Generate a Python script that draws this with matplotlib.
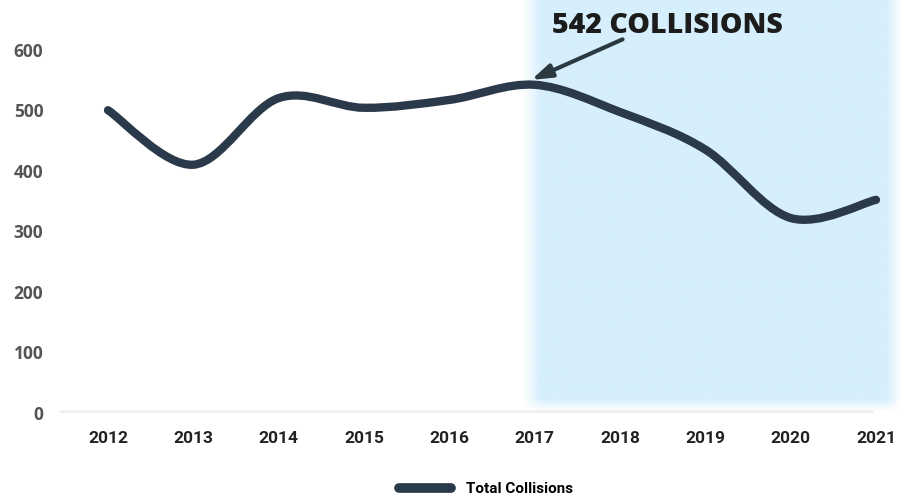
import numpy as np
import matplotlib
matplotlib.use("Agg")
import matplotlib.pyplot as plt
from matplotlib.path import Path
from matplotlib.patches import PathPatch
from matplotlib.lines import Line2D

years = [2012, 2013, 2014, 2015, 2016, 2017, 2018, 2019, 2020, 2021]
collisions = [500, 410, 520, 504, 517, 542, 497, 435, 322, 352]
y_ticks = [0, 100, 200, 300, 400, 500, 600]
note_text = "542 COLLISIONS"
legend_label = "Total Collisions"

line_color = "#2b3a4a"
narrow = ["Roboto", "DejaVu Sans"]

fig = plt.figure(figsize=(9.14, 5.01), dpi=100)
ax = fig.add_axes([60 / 914, 88 / 501, 845 / 914, 413 / 501])
ax.set_xlim(2011.4375, 2021.34)
ax.set_ylim(0, 682)

# shaded highlight with soft edges
w, h = 400, 200
xs = np.linspace(0, 1, w)
ys = np.linspace(0, 1, h)
fx = np.clip(xs / 0.05, 0, 1) * np.clip((1 - xs) / 0.04, 0, 1)
fy = np.clip(ys / 0.03, 0, 1)
alpha = np.outer(fy, fx)
img = np.zeros((h, w, 4))
img[..., 0] = 0xd6 / 255
img[..., 1] = 0xef / 255
img[..., 2] = 0xfc / 255
img[..., 3] = alpha
ax.imshow(img, extent=(2016.85, 2021.3, 2, 682), origin="lower",
          aspect="auto", zorder=0, interpolation="bilinear")

# faint baseline
ax.axhline(0, xmin=0.0, xmax=0.96, color="#f0f0f0", lw=4, zorder=1)

# smooth line (Catmull-Rom -> cubic Bezier)
px = np.array(years, dtype=float)
py = np.array(collisions, dtype=float)
verts = [(px[0], py[0])]
codes = [Path.MOVETO]
n = len(px)
for i in range(n - 1):
    p0 = (px[max(i - 1, 0)], py[max(i - 1, 0)])
    p1 = (px[i], py[i])
    p2 = (px[i + 1], py[i + 1])
    p3 = (px[min(i + 2, n - 1)], py[min(i + 2, n - 1)])
    c1 = (p1[0] + (p2[0] - p0[0]) / 6, p1[1] + (p2[1] - p0[1]) / 6)
    c2 = (p2[0] - (p3[0] - p1[0]) / 6, p2[1] - (p3[1] - p1[1]) / 6)
    verts += [c1, c2, p2]
    codes += [Path.CURVE4] * 3
patch = PathPatch(Path(verts, codes), facecolor="none", edgecolor=line_color,
                  lw=6, capstyle="round", joinstyle="round", zorder=3)
ax.add_patch(patch)

# annotation
peak = collisions.index(max(collisions))
ax.text(2018.56, 640, note_text, ha="center", va="center",
        fontsize=20.5, fontweight="heavy", family=["Open Sans", "DejaVu Sans"],
        color="#1c1c1c", zorder=5)
ax.annotate("", xy=(years[peak] - 0.04, collisions[peak] + 8),
            xytext=(2018.03, 617),
            arrowprops=dict(arrowstyle="-|>,head_length=1.2,head_width=0.4",
                            color="#2b3a40", lw=3, shrinkA=0, shrinkB=0),
            zorder=5)

ax.set_xticks(years)
ax.set_xticklabels([str(y) for y in years], fontsize=12.5, fontweight="bold",
                   family=narrow, color="#222222")
ax.set_yticks(y_ticks)
ax.set_yticklabels([str(v) for v in y_ticks], fontsize=12.5, fontweight="bold",
                   family=["Open Sans", "DejaVu Sans"], color="#555555")
ax.tick_params(axis="x", length=0, pad=13)
ax.tick_params(axis="y", length=0, pad=12)
for s in ax.spines.values():
    s.set_visible(False)

handle = Line2D([], [], color=line_color, lw=7, solid_capstyle="round")
fig.legend([handle], [legend_label], loc="center", bbox_to_anchor=(0.532, 0.024),
           frameon=False, handlelength=3.4, handletextpad=1.0,
           prop={"family": narrow, "weight": "bold", "size": 11})

fig.savefig("out.png", dpi=100)
